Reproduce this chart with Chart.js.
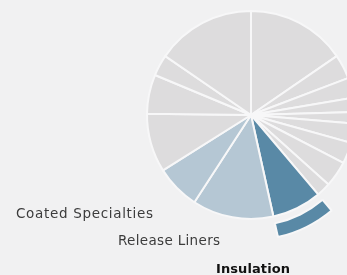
<!DOCTYPE html>
<html>
<head>
<meta charset="utf-8">
<title>Insulation share</title>
<script src="https://cdn.jsdelivr.net/npm/chart.js"></script>
<style>
  html, body { margin: 0; padding: 0; background: #f1f1f2; overflow: hidden; }
  #wrap { position: relative; width: 347px; height: 275px; }
  canvas { display: block; }
</style>
</head>
<body>
<div id="wrap"><canvas id="pie" width="347" height="275"></canvas></div>
<script>
// segments, clockwise from 12 o'clock (share of total, %)
const segments = ['', '', '', '', '', '', '', '', '', 'Insulation', 'Release Liners', 'Coated Specialties', '', '', '', ''];
const shares = [15.4, 3.8, 3.1, 2.2, 1.8, 3.0, 3.3, 4.0, 2.2, 7.7, 12.6, 6.9, 9.1, 6.1, 3.3, 15.4];
const highlighted = 'Insulation';
const related = ['Release Liners', 'Coated Specialties'];

const GREY = '#dddcdd';
const LIGHT_BLUE = '#b5c7d4';
const DARK_BLUE = '#5989a6';
const LINE = '#f7f7f8';
const NONE = 'rgba(0,0,0,0)';

const pieColors = segments.map(s => s === highlighted ? DARK_BLUE : (related.includes(s) ? LIGHT_BLUE : GREY));
const bandColors = segments.map(s => s === highlighted ? DARK_BLUE : NONE);
const bandBorders = segments.map(s => s === highlighted ? 2 : 0);
const clear = segments.map(() => NONE);

// callout labels drawn on the canvas (w = width they span in the original)
const callouts = [
  { text: 'Coated Specialties', x: 16, y: 218, w: 137, font: '13.5px "DejaVu Sans"', color: '#3c3c3c' },
  { text: 'Release Liners', x: 118, y: 245, w: 102, font: '13.5px "DejaVu Sans"', color: '#3c3c3c' },
  { text: 'Insulation', x: 216, y: 273, w: 74, font: 'bold 13px "DejaVu Sans"', color: '#111111' }
];

const calloutPlugin = {
  id: 'callouts',
  afterDraw(chart) {
    const ctx = chart.ctx;
    ctx.save();
    ctx.textBaseline = 'alphabetic';
    ctx.textAlign = 'left';
    callouts.forEach(c => {
      ctx.font = c.font;
      ctx.letterSpacing = '0px';
      const natural = ctx.measureText(c.text).width;
      ctx.letterSpacing = ((c.w - natural) / (c.text.length - 1)).toFixed(2) + 'px';
      ctx.fillStyle = c.color;
      ctx.fillText(c.text, c.x, c.y);
    });
    ctx.restore();
  }
};

new Chart(document.getElementById('pie'), {
  type: 'pie',
  data: {
    labels: segments,
    datasets: [
      { data: shares, backgroundColor: bandColors, borderColor: LINE, borderWidth: bandBorders, weight: 14, clip: false },
      { data: shares, backgroundColor: clear, borderWidth: 0, weight: 7, clip: false },
      { data: shares, backgroundColor: pieColors, borderColor: LINE, borderWidth: 2, weight: 104, clip: false }
    ]
  },
  options: {
    responsive: false,
    animation: false,
    events: [],
    radius: 125,
    layout: { padding: { left: 155, right: 0, top: 0, bottom: 45 } },
    plugins: { legend: { display: false }, tooltip: { enabled: false } }
  },
  plugins: [calloutPlugin]
});
</script>
</body>
</html>
